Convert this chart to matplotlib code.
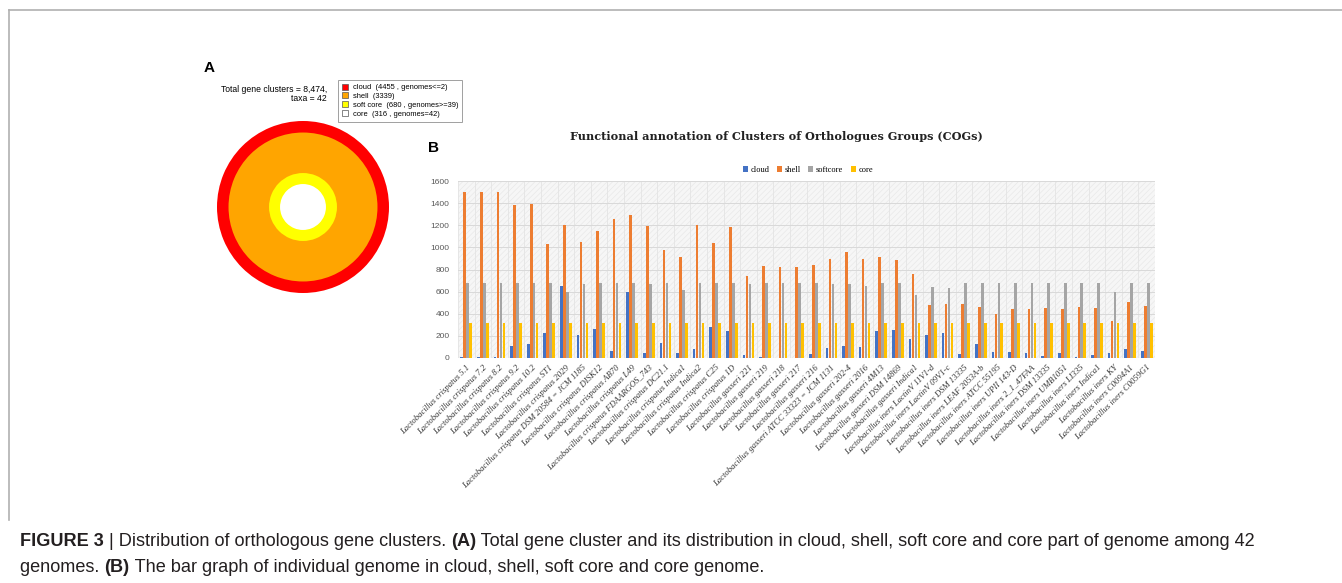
import matplotlib
matplotlib.use('Agg')
import matplotlib.pyplot as plt
from matplotlib.lines import Line2D
from matplotlib.patches import Rectangle
import numpy as np

# ---- panel A data
ring_names = ['cloud', 'shell', 'soft core', 'core']
ring_counts = [4455, 3339, 680, 316]
ring_notes = [' , genomes<=2', '', ' , genomes>=39', ' , genomes=42']
ring_colors = ['#ff0000', '#ffa500', '#ffff00', '#ffffff']

# ---- panel B data
genomes = [
    'Lactobacillus crispatus 5.1', 'Lactobacillus crispatus 7.2', 'Lactobacillus crispatus 8.2',
    'Lactobacillus crispatus 9.2', 'Lactobacillus crispatus 10.2', 'Lactobacillus crispatus ST1',
    'Lactobacillus crispatus 2029', 'Lactobacillus crispatus DSM 20584 = JCM 1185',
    'Lactobacillus crispatus DISK12', 'Lactobacillus crispatus AB70', 'Lactobacillus crispatus L49',
    'Lactobacillus crispatus FDAARGOS_743', 'Lactobacillus crispatus DC21.1',
    'Lactobacillus crispatus Indica1', 'Lactobacillus crispatus Indica2', 'Lactobacillus crispatus C25',
    'Lactobacillus crispatus 1D', 'Lactobacillus gasseri 221', 'Lactobacillus gasseri 219',
    'Lactobacillus gasseri 218', 'Lactobacillus gasseri 217', 'Lactobacillus gasseri 216',
    'Lactobacillus gasseri ATCC 33323 = JCM 1131', 'Lactobacillus gasseri 202-4',
    'Lactobacillus gasseri 2016', 'Lactobacillus gasseri 4M13', 'Lactobacillus gasseri DSM 14869',
    'Lactobacillus gasseri Indica1', 'Lactobacillus iners LactinV 11V1-d',
    'Lactobacillus iners LactinV 09V1-c', 'Lactobacillus iners DSM 13335',
    'Lactobacillus iners LEAF 2053A-b', 'Lactobacillus iners ATCC 55195',
    'Lactobacillus iners UPII 143-D', 'Lactobacillus iners 2_1_47FAA',
    'Lactobacillus iners DSM 13335', 'Lactobacillus iners UMB1051', 'Lactobacillus iners LI335',
    'Lactobacillus iners Indica1', 'Lactobacillus iners KY', 'Lactobacillus iners C0094A1',
    'Lactobacillus iners C0059G1']
cloud = [5, 5, 5, 108, 123, 225, 652, 204, 262, 63, 595, 42, 132, 48, 78, 283, 244,
         24, 5, 0, 0, 39, 87, 105, 99, 244, 250, 171, 207, 225, 39, 126, 54, 54, 48,
         18, 42, 5, 27, 42, 78, 60]
shell = [1498, 1500, 1498, 1383, 1389, 1031, 1200, 1053, 1149, 1260, 1293, 1194, 977,
         911, 1200, 1041, 1182, 743, 830, 824, 827, 842, 899, 959, 899, 914, 887, 758,
         475, 484, 484, 457, 400, 439, 439, 452, 446, 457, 451, 331, 505, 469]
softcore = [677, 677, 677, 675, 677, 675, 598, 670, 675, 675, 675, 670, 680, 611, 677,
            677, 675, 668, 675, 675, 675, 675, 670, 670, 650, 675, 675, 568, 641, 632,
            675, 675, 675, 675, 680, 675, 677, 675, 675, 595, 675, 675]
core = [316] * 42

series = [('cloud', cloud, '#4472c4'), ('shell', shell, '#ed7d31'),
          ('softcore', softcore, '#a5a5a5'), ('core', core, '#ffc000')]

plt.rcParams['hatch.linewidth'] = 0.4

W, H = 1342, 583
fig = plt.figure(figsize=(W / 100, H / 100), dpi=100)


def box(x0, y0, x1, y1):
    # pixel box (top-left origin) -> figure fraction rect
    return [x0 / W, 1 - y1 / H, (x1 - x0) / W, (y1 - y0) / H]


# page frame
fig.add_artist(Line2D([9 / W, 1], [1 - 10 / H, 1 - 10 / H], color='#b0b0b0', lw=1.2))
fig.add_artist(Line2D([9 / W, 9 / W], [1 - 10 / H, 1 - 520 / H], color='#b0b0b0', lw=1.2))

# ---- panel A
fig.text(204 / W, 1 - 68 / H, 'A', fontsize=11, fontweight='bold', va='center',
         family='Liberation Sans')
fig.text(327 / W, 1 - 94 / H, 'Total gene clusters = 8,474,\ntaxa = 42', fontsize=6.2,
         ha='right', va='center', family='Liberation Sans', linespacing=1.1)

axA = fig.add_axes(box(217, 121, 389, 293))
radii = [1.0, 0.866, 0.395, 0.267]
for cnt, col, r in zip(ring_counts, ring_colors, radii):
    axA.pie([cnt], radius=r, colors=[col], startangle=90,
            wedgeprops=dict(linewidth=0))
axA.set_xlim(-1.0, 1.0)
axA.set_ylim(-1.0, 1.0)
axA.set_aspect('equal')
axA.axis('off')

handlesA = [Line2D([], [], marker='s', ls='none', markersize=4, markerfacecolor=c,
                   markeredgecolor='#555555', markeredgewidth=0.5) for c in ring_colors]
labelsA = ['%s  (%d%s)' % (n, c, note) for n, c, note in zip(ring_names, ring_counts, ring_notes)]
legA = fig.legend(handlesA, labelsA, loc='upper left', bbox_to_anchor=(338 / W, 1 - 80 / H),
                  prop={'family': 'Liberation Sans', 'size': 5.4}, frameon=True,
                  fancybox=False, edgecolor='#888888', handlelength=0.8,
                  handletextpad=0.6, labelspacing=0.2, borderpad=0.55, borderaxespad=0)
legA.get_frame().set_linewidth(0.7)

# ---- panel B
fig.text(428 / W, 1 - 148 / H, 'B', fontsize=11, fontweight='bold', va='center',
         family='Liberation Sans')
fig.text(776 / W, 1 - 136 / H, 'Functional annotation of Clusters of Orthologues Groups (COGs)',
         fontsize=8.1, fontweight='bold', ha='center', va='center', family='DejaVu Serif',
         color='#222222')

ax = fig.add_axes(box(458, 181, 1155, 358))
n = len(genomes)
x = np.arange(n)
offsets = [-0.27, -0.09, 0.09, 0.27]
for (name, vals, col), off in zip(series, offsets):
    ax.bar(x + off, vals, width=0.16, color=col, label=name, zorder=3)

ax.set_xlim(-0.5, n - 0.5)
ax.set_ylim(0, 1600)
ax.set_yticks(np.arange(0, 1601, 200))
ax.set_facecolor('#f6f6f6')
ax.add_patch(Rectangle((0, 0), 1, 1, transform=ax.transAxes, facecolor='none',
                       edgecolor='#e6e6e6', hatch='//////', lw=0, zorder=0))
ax.set_xticks(x)
ax.set_xticks(np.arange(-0.5, n, 1.0), minor=True)
ax.set_xticklabels(genomes, rotation=45, ha='right', va='top', rotation_mode='anchor',
                   fontsize=6.2, family='Liberation Serif', style='italic', color='#333333')
ax.tick_params(axis='x', which='both', length=0, pad=4)
ax.tick_params(axis='y', length=0, pad=6, labelsize=6, labelcolor='#595959')
for t in ax.get_yticklabels():
    t.set_family('Liberation Sans')
ax.grid(axis='y', color='#d9d9d9', lw=0.7, zorder=1)
ax.grid(axis='x', which='minor', color='#e4e4e4', lw=0.6, zorder=1)
for s in ax.spines.values():
    s.set_visible(False)

fig.legend(loc='center', bbox_to_anchor=(808 / W, 1 - 170 / H), ncol=4, frameon=False,
           prop={'family': 'Liberation Serif', 'size': 6}, handlelength=0.6, handleheight=0.6,
           handletextpad=0.3, columnspacing=0.9)

# ---- caption with bold runs
renderer = fig.canvas.get_renderer()


def put_runs(x0, y0, runs, size=13.05):
    xpos = x0
    for txt, bold in runs:
        t = fig.text(xpos / W, 1 - y0 / H, txt, fontsize=size, va='center', color='#231f20',
                     family='Liberation Sans', fontweight='bold' if bold else 'normal')
        ext = t.get_window_extent(renderer)
        xpos += ext.width


put_runs(20, 541, [('FIGURE 3', True), (' | Distribution of orthologous gene clusters. ', False),
                   ('(A)', True),
                   (' Total gene cluster and its distribution in cloud, shell, soft core and core part of genome among 42', False)])
put_runs(20, 567, [('genomes. ', False), ('(B)', True),
                   (' The bar graph of individual genome in cloud, shell, soft core and core genome.', False)])

fig.savefig('out.png', dpi=100)
